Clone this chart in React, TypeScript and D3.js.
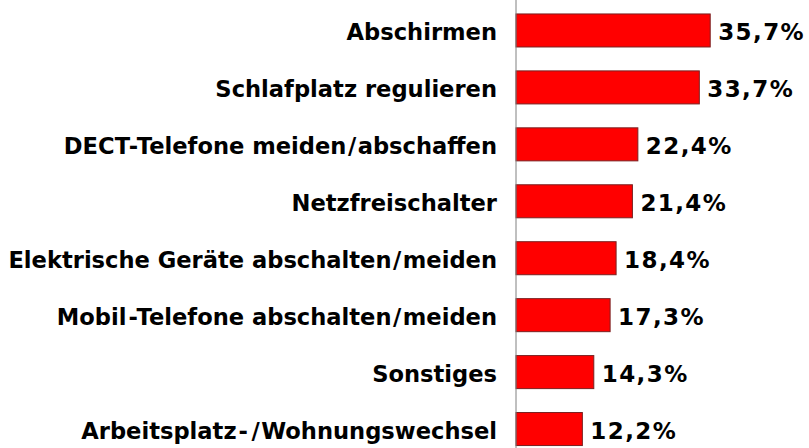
import React from "react";
import * as d3 from "d3";

const categories = [
  "Abschirmen",
  "Schlafplatz regulieren",
  "DECT-Telefone meiden/abschaffen",
  "Netzfreischalter",
  "Elektrische Geräte abschalten/meiden",
  "Mobil-Telefone abschalten/meiden",
  "Sonstiges",
  "Arbeitsplatz-/Wohnungswechsel",
];
const values = [35.7, 33.7, 22.4, 21.4, 18.4, 17.3, 14.3, 12.2];
const valueLabels = ["35,7%", "33,7%", "22,4%", "21,4%", "18,4%", "17,3%", "14,3%", "12,2%"];

const width = 809;
const height = 448;
const axisX = 516;

// the original font puts more room around "-" and "/"
const gapAround: Record<string, number> = { "-": 2, "/": 1.5 };

const Label = ({ text, x, y }: { text: string; x: number; y: number }) => {
  const parts = text.split(/([-/])/).filter((p) => p !== "");
  let pending = 0;
  return (
    <text x={x} y={y} textAnchor="end" fontSize={22.6} fill="#000">
      {parts.map((p, k) => {
        const g = gapAround[p];
        if (g !== undefined) {
          const dx = pending + g;
          pending = g;
          return (
            <tspan key={k} dx={dx}>
              {p}
            </tspan>
          );
        }
        const dx = pending;
        pending = 0;
        return (
          <tspan key={k} dx={dx}>
            {p}
          </tspan>
        );
      })}
    </text>
  );
};

const App = () => {
  const y = d3
    .scaleBand<string>()
    .domain(categories)
    .range([2, 457.5])
    .paddingInner(0.42)
    .paddingOuter(0.21);

  const x = d3.scaleLinear().domain([0, 40]).range([axisX, axisX + 40 * 5.44]);

  const font = "'DejaVu Sans', Verdana, sans-serif";

  return (
    <svg
      width={width}
      height={height}
      style={{ position: "absolute", left: 0, top: 0, background: "#fff" }}
      fontFamily={font}
      fontWeight="bold"
    >
      {categories.map((c, i) => {
        const y0 = y(c) as number;
        const cy = y0 + y.bandwidth() / 2;
        return (
          <g key={c}>
            <rect
              x={x(0)}
              y={y0}
              width={x(values[i]) - x(0)}
              height={y.bandwidth()}
              fill="#ff0000"
              stroke="#7a2020"
              strokeWidth={1}
            />
            <Label text={c} x={497} y={cy + 9.5} />
            <text x={x(values[i]) + 8} y={cy + 9.5} fontSize={23} letterSpacing={1.4} fill="#000">
              {valueLabels[i]}
            </text>
          </g>
        );
      })}
      <line x1={axisX} x2={axisX} y1={0} y2={height} stroke="#808080" strokeWidth={1} />
    </svg>
  );
};

export default App;
